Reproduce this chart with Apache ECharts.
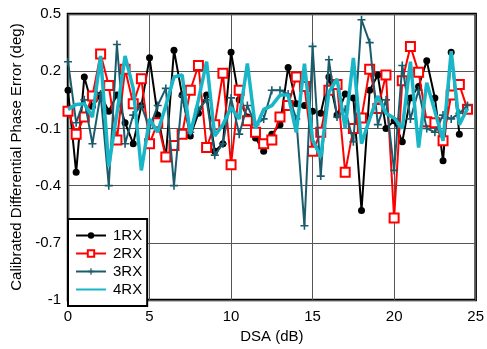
<!DOCTYPE html>
<html>
<head>
<meta charset="utf-8">
<script src="https://cdn.jsdelivr.net/npm/echarts@6/dist/echarts.min.js"></script>
<style>
html,body{margin:0;padding:0;background:#fff;}
#c{width:487px;height:349px;}
</style>
</head>
<body>
<div id="c"></div>
<script>
// DSA steps (dB)
const dsa = [0,0.5,1,1.5,2,2.5,3,3.5,4,4.5,5,5.5,6,6.5,7,7.5,8,8.5,9,9.5,10,10.5,11,11.5,12,12.5,13,13.5,14,14.5,15,15.5,16,16.5,17,17.5,18,18.5,19,19.5,20,20.5,21,21.5,22,22.5,23,23.5,24,24.5];

const rx1 = [0.10,-0.33,0.17,0.015,0.075,-0.01,0.075,-0.07,-0.18,0.02,
             0.27,-0.03,-0.25,0.31,0.075,-0.14,-0.02,0.075,-0.22,-0.18,
             0.30,0.05,-0.04,-0.15,-0.22,-0.13,-0.08,0.22,0.03,0.02,
             -0.01,-0.02,0.17,-0.03,0.08,0.06,-0.53,0.10,0.18,-0.10,
             -0.06,-0.17,0.06,0.12,0.255,0.06,-0.27,0.30,-0.13,null];

const rx2 = [-0.01,-0.13,-0.04,0.07,0.29,0.125,-0.16,0.21,0.03,0.16,
             -0.18,-0.07,-0.25,-0.19,-0.13,0.10,0.23,-0.20,-0.08,0.19,
             -0.29,0.10,-0.06,-0.12,-0.18,-0.16,-0.04,0.02,0.17,0.12,
             -0.22,-0.12,0.10,0.13,-0.33,-0.10,-0.045,0.21,0.005,0.18,
             -0.57,0.15,0.33,0.195,-0.065,-0.07,-0.165,0.075,0.13,0.0];

const rx3 = [0.25,-0.07,0.05,-0.18,0.08,-0.40,0.34,-0.18,-0.03,0.02,
             -0.10,0.02,0.11,-0.40,0.07,-0.12,0.00,0.05,-0.24,-0.18,
             0.06,-0.13,0.02,-0.08,-0.05,0.10,0.10,0.08,-0.05,-0.61,
             0.33,-0.35,0.26,-0.04,0.00,-0.17,0.47,0.35,-0.08,0.05,
             -0.32,0.23,-0.05,0.10,-0.10,-0.12,-0.03,-0.05,-0.02,0.02];

const rx4 = [0.00,0.025,0.03,-0.04,0.28,-0.30,-0.02,0.28,0.11,-0.32,
             -0.05,-0.12,0.02,0.17,0.18,-0.13,0.05,0.25,-0.14,-0.08,
             0.01,-0.05,0.24,-0.10,0.00,0.02,0.075,0.075,-0.12,0.24,
             -0.16,-0.25,0.09,0.16,-0.10,0.27,-0.18,-0.05,0.07,-0.02,
             -0.045,-0.10,0.25,-0.20,0.14,-0.01,-0.165,0.305,-0.08,0.005];

const seriesNames = ['1RX','2RX','3RX','4RX'];
const xTicks = {min:0, max:25, interval:5};
const yTicks = {min:-1, max:0.5, interval:0.3};

function pairs(arr){ return dsa.map((x,i)=>[x, arr[i]]); }

const FONT = '"Liberation Sans", Arial, Helvetica, sans-serif';
const plus = 'path://M4,0h2v4h4v2h-4v4h-2v-4h-4v-2h4z';

const chart = echarts.init(document.getElementById('c'), null, {renderer:'canvas'});
chart.setOption({
  animation:false,
  backgroundColor:'#fff',
  textStyle:{fontFamily:FONT},
  grid:{left:68, right:6, top:14, bottom:43, show:true, borderColor:'#000', borderWidth:2.5, containLabel:false},
  xAxis:{
    type:'value', min:xTicks.min, max:xTicks.max, interval:xTicks.interval,
    name:'DSA (dB)', nameLocation:'middle', nameGap:27,
    nameTextStyle:{fontSize:15, color:'#000', fontFamily:FONT},
    axisLine:{show:false}, axisTick:{show:false},
    axisLabel:{fontSize:15, color:'#000', margin:9, fontFamily:FONT},
    splitLine:{show:true, lineStyle:{color:'#555', width:1}}
  },
  yAxis:{
    type:'value', min:yTicks.min, max:yTicks.max, interval:yTicks.interval,
    name:'Calibrated Differential Phase Error (deg)', nameLocation:'middle', nameGap:44,
    nameTextStyle:{fontSize:15, color:'#000', fontFamily:FONT},
    axisLine:{show:false}, axisTick:{show:false},
    axisLabel:{fontSize:15, color:'#000', margin:7, fontFamily:FONT,
      formatter:v=>String(+v.toFixed(1))},
    splitLine:{show:true, lineStyle:{color:'#555', width:1}}
  },
  legend:{
    orient:'vertical', left:68, top:219,
    backgroundColor:'#fff', borderColor:'#000', borderWidth:2,
    padding:[8,5,8,7], itemGap:1, itemWidth:30, itemHeight:8,
    textStyle:{fontSize:15, lineHeight:17, color:'#000', fontFamily:FONT, padding:[0,0,0,2]},
    data:[
      {name:seriesNames[0]},
      {name:seriesNames[1]},
      {name:seriesNames[2]},
      {name:seriesNames[3], itemStyle:{opacity:0}}
    ]
  },
  series:[
    {name:seriesNames[0], type:'line', data:pairs(rx1), z:2,
     symbol:'circle', symbolSize:7, showAllSymbol:true,
     lineStyle:{color:'#000', width:2}, itemStyle:{color:'#000'}},
    {name:seriesNames[1], type:'line', data:pairs(rx2), z:3,
     symbol:'emptyRect', symbolSize:9, showAllSymbol:true,
     lineStyle:{color:'#ff0000', width:2}, itemStyle:{color:'#ff0000', borderWidth:2}},
    {name:seriesNames[2], type:'line', data:pairs(rx3), z:4,
     symbol:plus, symbolSize:8, showAllSymbol:true,
     lineStyle:{color:'#1b5c6c', width:2}, itemStyle:{color:'#1b5c6c'}},
    {name:seriesNames[3], type:'line', data:pairs(rx4), z:5,
     symbol:'none', showSymbol:false,
     lineStyle:{color:'#19b6c8', width:3.5}, itemStyle:{color:'#19b6c8'}}
  ]
});
</script>
</body>
</html>
